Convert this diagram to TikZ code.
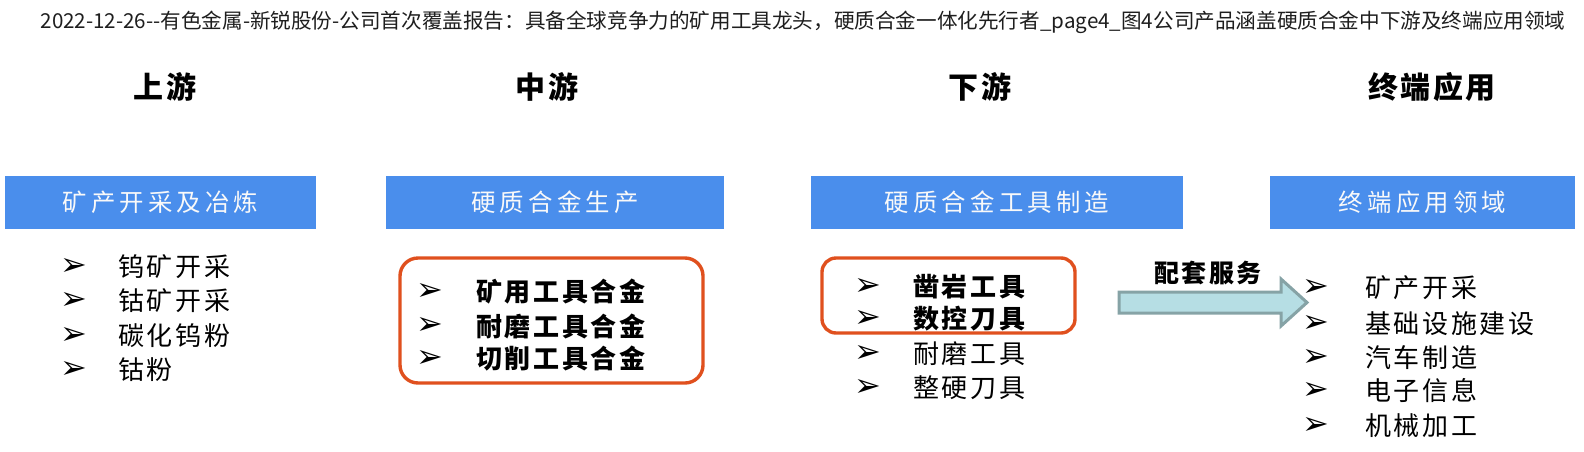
\documentclass[tikz,border=0pt]{standalone}
\usepackage{fontspec}
\setmainfont{Noto Sans CJK SC}
\newfontfamily\cjktitle{Noto Sans CJK SC}
\newfontfamily\cjkhead[LetterSpace=7]{Noto Sans CJK SC}
\newfontfamily\cjkbox[LetterSpace=17]{Noto Sans CJK SC}
\newfontfamily\cjklist[LetterSpace=10]{Noto Sans CJK SC}
\newfontfamily\cjklab[LetterSpace=10]{Noto Sans CJK SC}
\newfontfamily\symfont{DejaVu Sans}
\definecolor{boxblue}{RGB}{74,142,236}
\definecolor{frameorange}{RGB}{224,80,30}
\definecolor{arrowfill}{RGB}{182,222,228}
\definecolor{arrowedge}{RGB}{134,163,166}
\definecolor{titlegray}{RGB}{30,30,30}
\tikzset{
  titletext/.style={font=\cjktitle\fontsize{10.3pt}{12pt}\selectfont, text=titlegray, inner sep=0pt},
  headtext/.style={font=\cjkhead\bfseries\fontsize{15pt}{18pt}\selectfont, inner sep=0pt},
  bluebox/.style={fill=boxblue, draw=none, text=white!95!gray, inner sep=0pt, minimum height=26.5pt,
    font=\cjkbox\fontsize{12.2pt}{14pt}\selectfont},
  obox/.style={draw=frameorange, line width=1.7pt, rounded corners=9pt, inner sep=0pt},
  bul/.style={font=\symfont\fontsize{16pt}{18pt}\selectfont, inner sep=0pt},
  item/.style={anchor=west, font=\cjklist\fontsize{13pt}{15pt}\selectfont, inner sep=0pt},
  bitem/.style={item, font=\cjklist\bfseries\fontsize{13pt}{15pt}\selectfont},
  bigarrow/.style={fill=arrowfill, draw=arrowedge, line width=1.5pt, line join=miter},
  arrlabel/.style={font=\cjklab\bfseries\fontsize{12.5pt}{15pt}\selectfont, inner sep=0pt}
}
\begin{document}
\begin{tikzpicture}[x=0.5pt,y=-0.5pt]
\useasboundingbox (0,0) rectangle (1584,451);
\fill[white] (0,0) rectangle (1584,451);

\node[titletext] (title) at (803,22) {2022-12-26--有色金属-新锐股份-公司首次覆盖报告：具备全球竞争力的矿用工具龙头，硬质合金一体化先行者\_page4\_图4公司产品涵盖硬质合金中下游及终端应用领域};

\node[headtext] (h1) at (165,87) {上游};
\node[headtext] (h2) at (547,87) {中游};
\node[headtext] (h3) at (980,87) {下游};
\node[headtext] (h4) at (1432,87) {终端应用};

\node[bluebox, minimum width=155.5pt] (b1) at (160.5,202.5) {矿产开采及冶炼};
\node[bluebox, minimum width=169pt] (b2) at (555,202.5) {硬质合金生产};
\node[bluebox, minimum width=186pt] (b3) at (997,202.5) {硬质合金工具制造};
\node[bluebox, minimum width=152.5pt] (b4) at (1422.5,202.5) {终端应用领域};

\node[obox, minimum width=151.5pt, minimum height=62.5pt] (f2) at (551.5,320.5) {};
\node[obox, rounded corners=7pt, minimum width=126.5pt, minimum height=37.5pt] (f3) at (948.5,295.5) {};

% column 1
\node[bul] (u11) at (74,267) {➢}; \node[item] (t11) at (118,267) {钨矿开采};
\node[bul] (u12) at (74,301) {➢}; \node[item] (t12) at (118,301) {钴矿开采};
\node[bul] (u13) at (74,336) {➢}; \node[item] (t13) at (118,336) {碳化钨粉};
\node[bul] (u14) at (74,370) {➢}; \node[item] (t14) at (118,370) {钴粉};

% column 2
\node[bul] (u21) at (430,292) {➢}; \node[bitem] (t21) at (476,292) {矿用工具合金};
\node[bul] (u22) at (430,326) {➢}; \node[bitem] (t22) at (476,326) {耐磨工具合金};
\node[bul] (u23) at (430,359) {➢}; \node[bitem] (t23) at (476,359) {切削工具合金};

% column 3
\node[bul] (u31) at (868,287) {➢}; \node[bitem] (t31) at (913,287) {凿岩工具};
\node[bul] (u32) at (868,319) {➢}; \node[bitem] (t32) at (913,319) {数控刀具};
\node[bul] (u33) at (868,354) {➢}; \node[item] (t33) at (913,354) {耐磨工具};
\node[bul] (u34) at (868,388) {➢}; \node[item] (t34) at (913,388) {整硬刀具};

% arrow
\draw[bigarrow] (1119,292) -- (1281,292) -- (1281,279) -- (1307,302.5) -- (1281,326) -- (1281,313) -- (1119,313) -- cycle;
\node[arrlabel] (lab) at (1208,273) {配套服务};

% column 4
\node[bul] (u41) at (1316,288) {➢}; \node[item] (t41) at (1365,288) {矿产开采};
\node[bul] (u42) at (1316,324) {➢}; \node[item] (t42) at (1365,324) {基础设施建设};
\node[bul] (u43) at (1316,358) {➢}; \node[item] (t43) at (1365,358) {汽车制造};
\node[bul] (u44) at (1316,391) {➢}; \node[item] (t44) at (1365,391) {电子信息};
\node[bul] (u45) at (1316,426) {➢}; \node[item] (t45) at (1365,426) {机械加工};
\end{tikzpicture}
\end{document}
